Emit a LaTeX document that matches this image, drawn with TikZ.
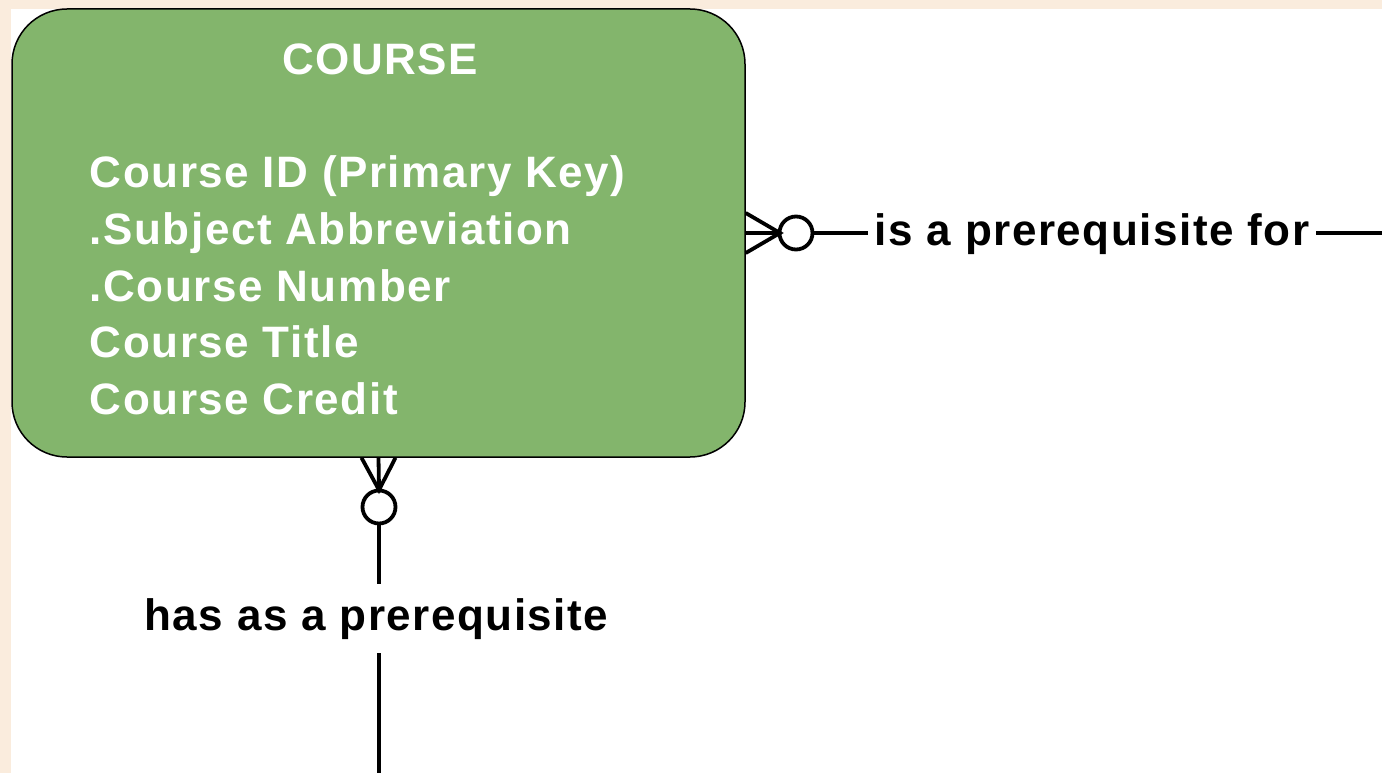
\documentclass[tikz,border=0pt]{standalone}
\usepackage{fontspec}
\setmainfont{Liberation Sans}[LetterSpace=3.5]
\usetikzlibrary{positioning}
\definecolor{paper}{RGB}{250,236,221}
\definecolor{coursegreen}{RGB}{131,181,108}
\begin{document}
\begin{tikzpicture}[x=1pt, y=-1pt, line width=3.8pt,
  entity/.style={rectangle, rounded corners=55pt, draw=black, line width=1.5pt, fill=coursegreen, minimum width=733pt, minimum height=448pt, inner sep=0pt},
  attr/.style={anchor=base west, text=white, font=\fontsize{44}{52}\selectfont\bfseries, inner sep=0pt},
  rel/.style={font=\fontsize{44}{52}\selectfont\bfseries, inner xsep=5pt, inner ysep=12pt},
  opt/.style={circle, draw, fill=white, minimum size=33pt, inner sep=0pt}]
\fill[paper] (0,0) rectangle (1382,773);
\fill[white] (11,9) rectangle (1382,773);
\useasboundingbox (0,0) rectangle (1382,773);
% entity
\node [entity] (course) at (378.5,233) {};
\node [attr, anchor=base] (title) at (380,75) {COURSE};
\foreach \txt [count=\i] in {{Course ID (Primary Key)}, {.Subject Abbreviation}, {.Course Number}, {Course Title}, {Course Credit}}
  \node [attr] (attr\i) at (88, 131.5+56.5*\i) {\txt};
% is a prerequisite for
\coordinate (crowR) at (780,233);
\node [opt] (optR) at (796,233) {};
\draw ([yshift=-20pt]course.east) -- (crowR) -- ([yshift=20pt]course.east);
\draw (course.east) -- (optR.west);
\node [rel, anchor=base west] (isfor) at (868,245) {is a prerequisite for};
\coordinate (endR) at (1382,233);
\draw (optR.east) -- (optR.east -| isfor.west);
\draw (isfor.east |- optR) -- (endR);
% has as a prerequisite
\coordinate (crowB) at (379,490);
\node [opt] (optB) at (379,507) {};
\draw ([xshift=-17pt]course.south) -- (crowB) -- ([xshift=17pt]course.south);
\draw (course.south) -- (optB.north);
\node [rel, anchor=base] (hasas) at (376.5,630) {has as a prerequisite};
\coordinate (endB) at (379,773);
\draw (optB.south) -- (hasas.north -| optB);
\draw (hasas.south -| optB) -- (endB);
\end{tikzpicture}
\end{document}
